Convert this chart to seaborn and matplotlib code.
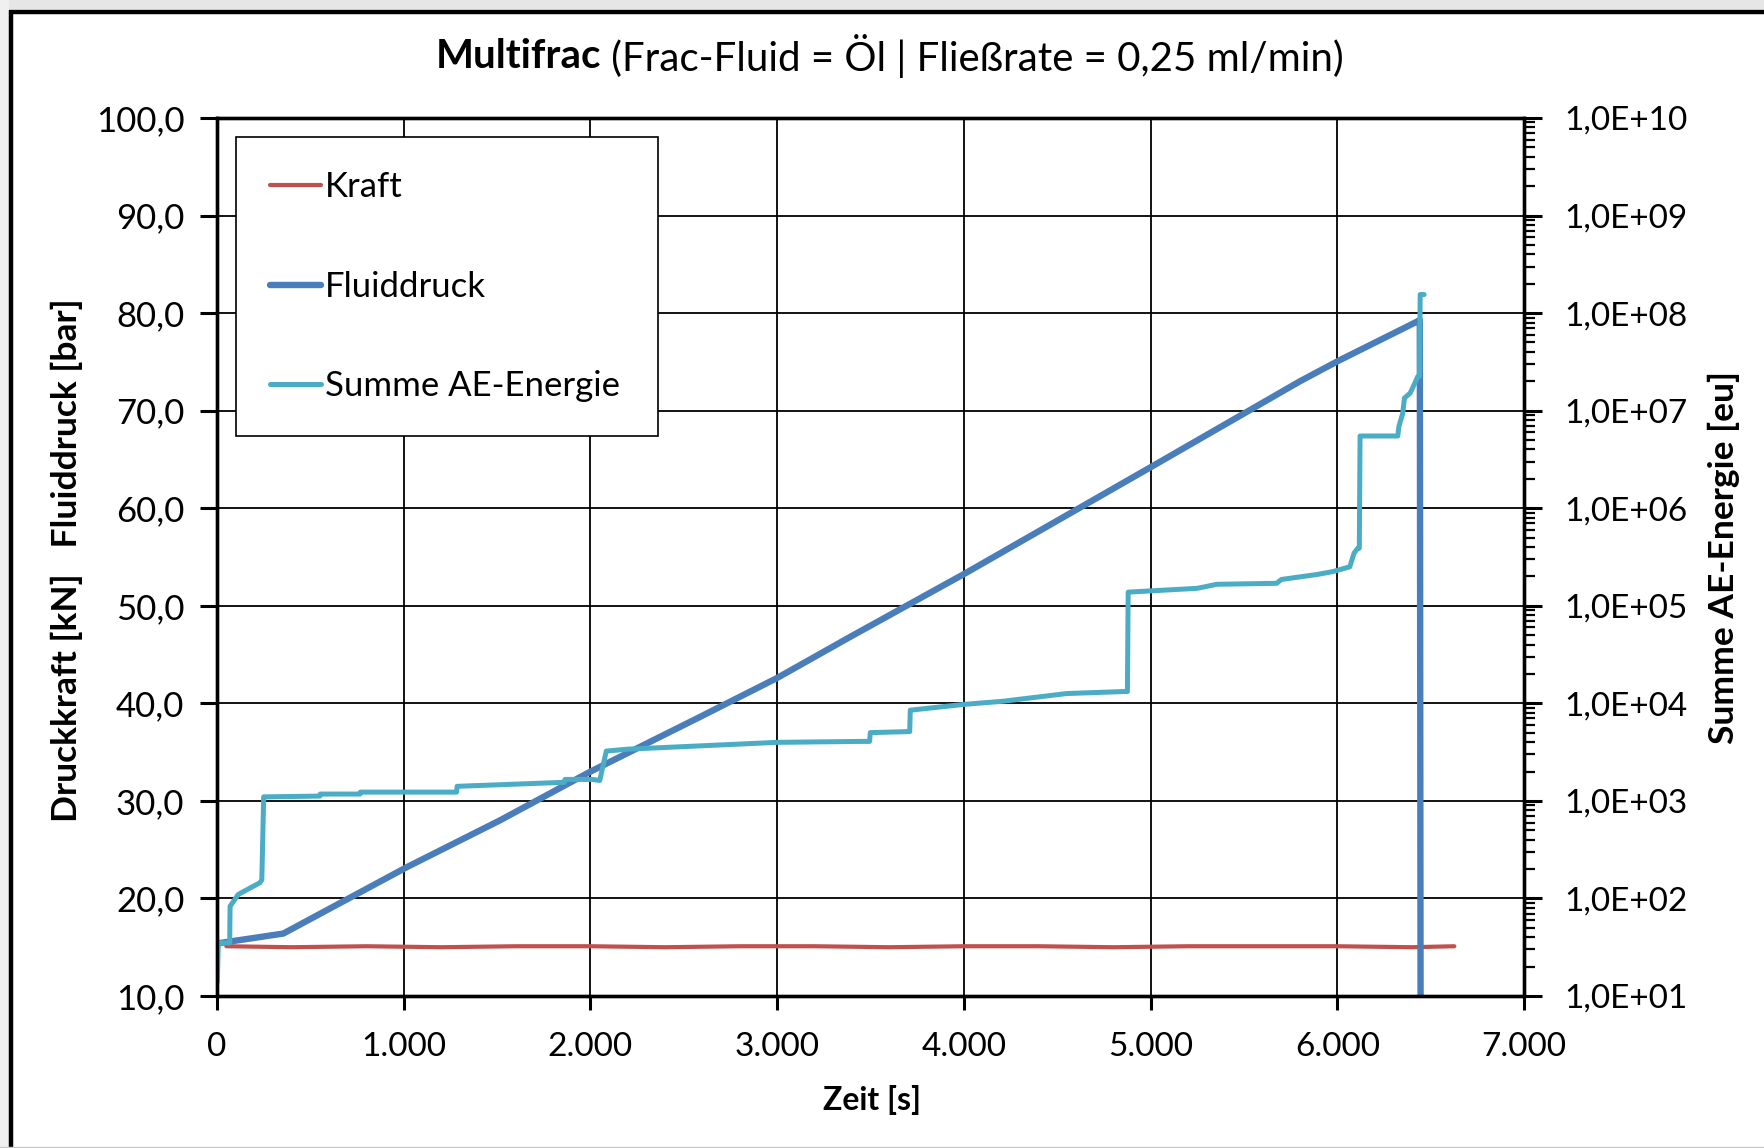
import numpy as np
import pandas as pd
import matplotlib
matplotlib.use("Agg")
import matplotlib.pyplot as plt
import seaborn as sns
from matplotlib.ticker import FixedLocator, FuncFormatter, LogLocator, NullFormatter
from matplotlib.patches import Rectangle
from matplotlib.lines import Line2D

# --- measured series ---------------------------------------------------------
# Kraft [kN] over time [s]
kraft_t = [50, 400, 800, 1200, 1600, 2000, 2400, 2800, 3200, 3600, 4000, 4400,
           4800, 5200, 5600, 6000, 6400, 6627]
kraft = [15.1, 15.0, 15.1, 15.0, 15.1, 15.1, 15.0, 15.1, 15.1, 15.0, 15.1, 15.1,
         15.0, 15.1, 15.1, 15.1, 15.0, 15.1]

# Fluiddruck [bar] over time [s]
druck_t = [5, 355, 1016, 1515, 2000, 2586, 3000, 3390, 4005, 5000, 5799, 6005,
           6424, 6442, 6446]
druck = [15.4, 16.4, 23.2, 28.0, 33.0, 38.6, 42.6, 46.8, 53.3, 64.2, 73.0, 75.1,
         79.1, 79.3, 10.0]

# Summe AE-Energie [eu] over time [s]
ae_t = [2, 6, 8, 68, 70, 114, 230, 240, 250, 266, 551, 553, 766, 768, 1283, 1286,
        1860, 1864, 2008, 2050, 2085, 2200, 2999, 3443, 3495, 3499, 3700, 3710,
        3713, 4005, 4209, 4551, 4851, 4876, 4880, 5250, 5355, 5676, 5700, 5890,
        5976, 6067, 6090, 6110, 6118, 6122, 6324, 6330, 6350, 6360, 6390, 6410,
        6431, 6440, 6444, 6465]
ae = [14, 30, 35, 35, 83, 110, 145, 155, 1100, 1100, 1120, 1175, 1175, 1230, 1230,
      1410, 1550, 1660, 1660, 1620, 3240, 3390, 3980, 4070, 4070, 5010, 5130, 5130,
      8510, 9770, 10500, 12600, 13200, 13200, 138000, 151000, 166000, 170000,
      186000, 209000, 224000, 251000, 347000, 389000, 389000, 5.5e6, 5.5e6, 6.9e6,
      9.3e6, 1.35e7, 1.51e7, 1.82e7, 2.24e7, 2.24e7, 1.55e8, 1.55e8]

# axis ticks
x_ticks = [0, 1000, 2000, 3000, 4000, 5000, 6000, 7000]
y_ticks = [10, 20, 30, 40, 50, 60, 70, 80, 90, 100]
ae_ticks = [1e1, 1e2, 1e3, 1e4, 1e5, 1e6, 1e7, 1e8, 1e9, 1e10]

title_bold = "Multifrac"
title_rest = "(Frac-Fluid = Öl | Fließrate = 0,25 ml/min)"
series_names = ["Kraft", "Fluiddruck", "Summe AE-Energie"]

c_kraft = "#C0504D"
c_druck = "#4A7EBB"
c_ae = "#4BACC6"

# --- style ---------------------------------------------------------------------
sns.set_theme(style="white")
plt.rcParams["font.family"] = ["Lato", "DejaVu Sans"]
plt.rcParams["axes.unicode_minus"] = False

W, H = 1764, 1148
fig = plt.figure(figsize=(W / 100, H / 100), dpi=100)
fig.patch.set_facecolor("white")

# chart frame around the whole picture
fig.patches.append(Rectangle((0, 1 - 9 / H), 1, 9 / H, transform=fig.transFigure,
                             facecolor="#e6e6e6", edgecolor="none", zorder=0))
fig.patches.append(Rectangle((0, 0), 9 / W, 1, transform=fig.transFigure,
                             facecolor="#f0f0f0", edgecolor="none", zorder=0))
fig.lines.append(Line2D([9 / W, 1], [1 - 11.5 / H, 1 - 11.5 / H], transform=fig.transFigure,
                        color="black", lw=3.2, solid_capstyle="butt"))
fig.lines.append(Line2D([11 / W, 11 / W], [0, 1 - 10 / H], transform=fig.transFigure,
                        color="black", lw=3.2, solid_capstyle="butt"))
fig.lines.append(Line2D([0, 1], [1.5 / H, 1.5 / H], transform=fig.transFigure,
                        color="#c8c8c8", lw=1.0))

left, right, top, bottom = 217, 1524, 118, 996
ax = fig.add_axes([left / W, 1 - bottom / H, (right - left) / W, (bottom - top) / H])
ax2 = ax.twinx()

df_k = pd.DataFrame({"t": kraft_t, "v": kraft})
df_d = pd.DataFrame({"t": druck_t, "v": druck})
df_a = pd.DataFrame({"t": ae_t, "v": ae})

sns.lineplot(data=df_k, x="t", y="v", ax=ax, color=c_kraft, lw=3.0, sort=False,
             estimator=None, label=series_names[0], legend=False)
sns.lineplot(data=df_d, x="t", y="v", ax=ax, color=c_druck, lw=4.6, sort=False,
             estimator=None, label=series_names[1], legend=False)
sns.lineplot(data=df_a, x="t", y="v", ax=ax2, color=c_ae, lw=3.6, sort=False,
             estimator=None, label=series_names[2], legend=False)

# left / bottom axes
ax.set_xlim(0, 7000)
ax.set_ylim(10, 100)
ax.xaxis.set_major_locator(FixedLocator(x_ticks))
ax.yaxis.set_major_locator(FixedLocator(y_ticks))
ax.xaxis.set_major_formatter(FuncFormatter(lambda v, p: f"{v:,.0f}".replace(",", ".")))
ax.yaxis.set_major_formatter(FuncFormatter(lambda v, p: f"{v:.1f}".replace(".", ",")))
ax.grid(True, color="black", lw=1.3)
ax.set_axisbelow(True)
ax.tick_params(axis="both", which="major", colors="black")
ax.tick_params(axis="y", direction="out", length=12, width=2.2, pad=11.5, left=True,
               labelsize=25)
ax.tick_params(axis="x", direction="out", length=10, width=2.2, pad=16, bottom=True,
               labelsize=24)

# right log axis
ax2.set_yscale("log")
ax2.set_ylim(1e1, 1e10)
ax2.yaxis.set_major_locator(FixedLocator(ae_ticks))
ax2.yaxis.set_minor_locator(LogLocator(base=10, subs=np.arange(2, 10), numticks=20))
ax2.yaxis.set_minor_formatter(NullFormatter())
ax2.yaxis.set_major_formatter(FuncFormatter(lambda v, p: f"1,0E+{int(round(np.log10(v))):02d}"))
ax2.tick_params(axis="y", which="major", direction="out", length=13, width=2.2,
                labelsize=24, pad=16, right=True, colors="black")
ax2.tick_params(axis="y", which="minor", direction="out", length=8, width=1.6, right=True,
                colors="black")
ax2.grid(False)

for a in (ax, ax2):
    for s in a.spines.values():
        s.set_color("black")
        s.set_linewidth(2.4)
        s.set_visible(True)

# labels
ax.set_xlabel("Zeit [s]", fontsize=23, fontweight="bold", color="black")
ax.xaxis.set_label_coords(0.501, -0.1008)
ax.set_ylabel("Druckkraft [kN]   Fluiddruck [bar]", fontsize=25.5, fontweight="bold",
              color="black")
ax.yaxis.set_label_coords(-0.1022, 0.4966)
ax2.set_ylabel("Summe AE-Energie [eu]", fontsize=25.5, fontweight="bold", color="black")
ax2.yaxis.set_label_coords(1.1405, 0.499)

# legend
handles = ax.get_lines()[:2] + ax2.get_lines()[:1]
y_top = (bottom - 137) / (bottom - top)
leg = ax2.legend(handles, series_names, loc="upper left",
                 bbox_to_anchor=((236 - left) / (right - left), y_top - 0.05,
                                 (658 - 236) / (right - left), 0.05),
                 mode="expand", fontsize=25, frameon=True, fancybox=False, shadow=False,
                 edgecolor="black", framealpha=1, borderpad=0.98, labelspacing=1.95,
                 handlelength=1.47, handletextpad=0.1, borderaxespad=0)
leg.get_frame().set_linewidth(1.2)
for t in leg.get_texts():
    t.set_color("black")

# title with bold lead word
fig.canvas.draw()
r = fig.canvas.get_renderer()
tb = fig.text(0, 1 - 56 / H, title_bold, fontsize=29, fontweight="bold", va="center",
              ha="left", color="black")
tr = fig.text(0, 1 - 56 / H, " " + title_rest, fontsize=29, va="center", ha="left",
              color="black")
wb = tb.get_window_extent(r).width
wr = tr.get_window_extent(r).width
x0 = 890 - (wb + wr) / 2
tb.set_x(x0 / W)
tr.set_x((x0 + wb) / W)

fig.savefig("out.png", dpi=100, facecolor=fig.get_facecolor())
